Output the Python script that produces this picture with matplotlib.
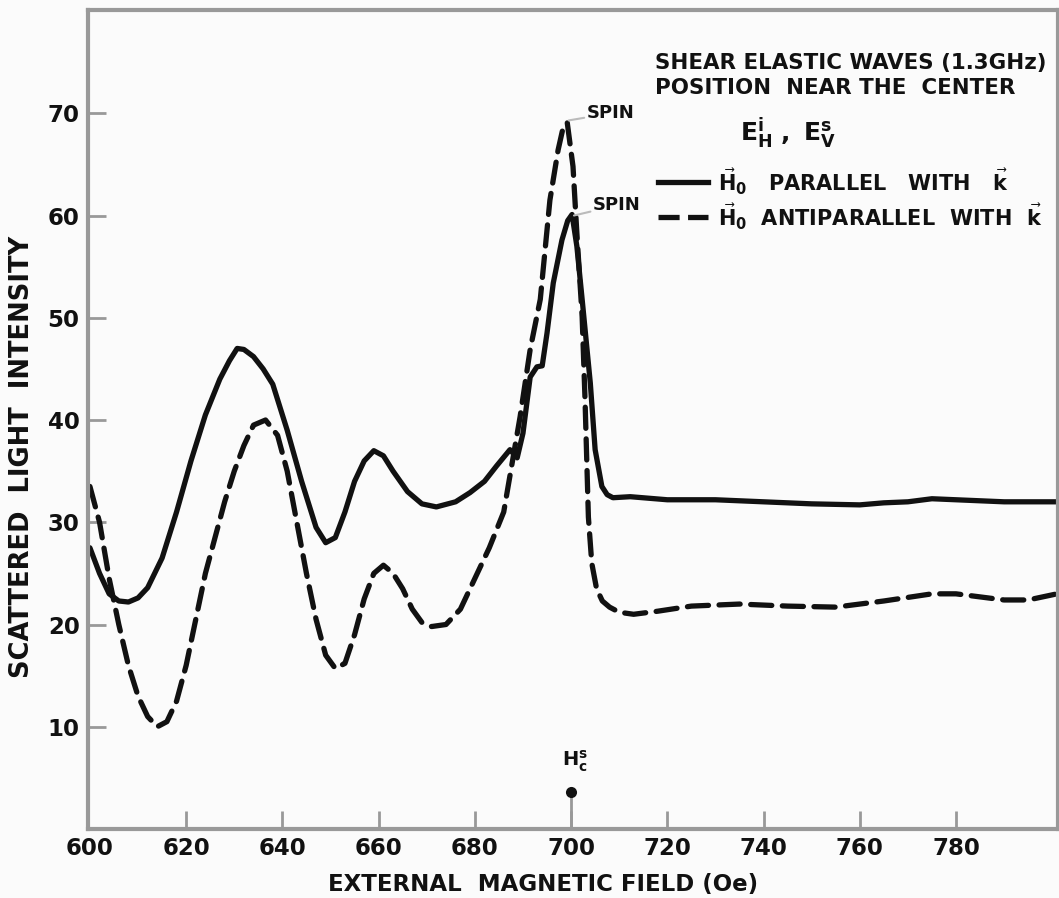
import numpy as np
import matplotlib
matplotlib.use('Agg')
import matplotlib.pyplot as plt

# solid curve: H0 parallel with k
par_x = [600, 602, 604, 606, 608, 610, 612, 615, 618, 621, 624, 627, 629,
         630.6, 632, 634, 636, 638, 641, 644, 647, 649, 651, 653, 655, 657,
         659, 661, 663, 666, 669, 672, 676, 679, 682, 684.5, 687.3, 688.8,
         690, 691.5, 692.9, 694, 695, 696.3, 698.1, 699.3, 700.2, 701.2,
         702.3, 704, 705, 706.4, 707.5, 708.7, 712.3, 720, 730, 740, 750,
         760, 765, 770, 775, 780, 790, 801]
par_y = [27.5, 25, 23, 22.3, 22.2, 22.6, 23.6, 26.5, 31, 36, 40.5, 44, 45.8,
         47, 46.9, 46.2, 45, 43.5, 39, 34, 29.5, 28, 28.5, 31, 34, 36,
         37, 36.5, 35, 33, 31.8, 31.5, 32, 32.9, 34, 35.5, 37.1, 36.3,
         38.7, 44.2, 45.2, 45.3, 48.5, 53.4, 57.6, 59.5, 60.1, 57,
         51.8, 43.6, 37.1, 33.5, 32.7, 32.4, 32.5, 32.2, 32.2, 32, 31.8,
         31.7, 31.9, 32, 32.3, 32.2, 32, 32]

# dashed curve: H0 antiparallel with k
anti_x = [600, 602, 604, 606, 608, 610, 612, 614, 616, 618, 620, 622, 624, 626,
          628, 630, 632, 634, 636.5, 639, 641, 643, 645, 647, 649, 651, 653,
          655, 657, 659, 661, 663, 665, 667, 669, 671, 674, 677, 680, 683, 686,
          689.4, 691.5, 693.6, 695.6, 697.3, 698.3, 699.2, 700.4, 701.2, 702.3,
          702.9, 703.3, 703.6, 704.3, 705.3, 706.5, 708, 710, 713, 718, 725,
          735, 745, 755, 765, 775, 780, 785, 790, 795, 801]
anti_y = [33.5, 30, 24.5, 20, 16, 13, 11, 10, 10.5, 12.5, 16, 20.5, 25, 28.5,
          32, 35, 37.5, 39.5, 40, 38.5, 35, 30, 25, 20.5, 17, 15.7, 16.2,
          19, 22.5, 25, 25.8, 25, 23.5, 21.5, 20.2, 19.8, 20, 21.5, 24.5, 27.5, 31,
          40.3, 46.9, 51.8, 61.5, 66.4, 68.5, 69.1, 64.8, 58.3, 50.1,
          42, 35.4, 30.5, 26, 23.5, 22.3, 21.7, 21.2, 21, 21.3, 21.8,
          22, 21.8, 21.7, 22.3, 23, 23, 22.7, 22.4, 22.4, 23]

xticks = [600, 620, 640, 660, 680, 700, 720, 740, 760, 780]
yticks = [10, 20, 30, 40, 50, 60, 70]

ink = '#111111'
grey = '#999999'


def main():
    fig = plt.figure(figsize=(10.59, 8.98), dpi=100, facecolor='#fbfbfb')
    ax = fig.add_axes([88 / 1059, 1 - 829 / 898, 970 / 1059, 819 / 898])
    ax.set_facecolor('#fbfbfb')

    ax.plot(par_x, par_y, color=ink, lw=3.8, solid_capstyle='round',
            solid_joinstyle='round')
    ax.plot(anti_x, anti_y, color=ink, lw=3.8, dashes=(4, 2),
            dash_capstyle='round', dash_joinstyle='round')

    ax.set_xlim(599.6, 801.2)
    ax.set_ylim(0, 80.1)
    ax.set_xticks(xticks)
    ax.set_yticks(yticks)
    ax.tick_params(direction='in', length=13, width=2, color=grey,
                   labelsize=16.5, pad=6)
    ax.xaxis.get_major_ticks()[0].tick1line.set_visible(False)
    for lab in ax.get_xticklabels() + ax.get_yticklabels():
        lab.set_fontweight('bold')
        lab.set_color(ink)
    for sp in ax.spines.values():
        sp.set_color(grey)
        sp.set_linewidth(3)

    fig.text(543 / 1059, 1 - 884 / 898, 'EXTERNAL  MAGNETIC FIELD (Oe)',
             ha='center', va='center', fontsize=16.5, fontweight='bold', color=ink)
    fig.text(22 / 1059, 1 - 457 / 898, 'SCATTERED  LIGHT  INTENSITY',
             ha='center', va='center', rotation=90, fontsize=18.5,
             fontweight='bold', color=ink)

    # SPIN annotations
    ax.annotate('SPIN', xy=(699.5, 69.3), xytext=(703.3, 70.0),
                fontsize=13, fontweight='bold', color=ink, va='center',
                arrowprops=dict(arrowstyle='-', color='#bbbbbb', lw=1.5,
                                shrinkA=0, shrinkB=0))
    ax.annotate('SPIN', xy=(700.6, 60), xytext=(704.6, 61.0),
                fontsize=13, fontweight='bold', color=ink, va='center',
                arrowprops=dict(arrowstyle='-', color='#bbbbbb', lw=1.5,
                                shrinkA=0, shrinkB=0))

    # critical field marker
    ax.plot([700, 700], [0, 3], color=grey, lw=2)
    ax.plot([700], [3.6], marker='o', ms=8, color=ink, markeredgewidth=0)
    ax.text(700.8, 6.6, r'$\mathbf{H_c^s}$', ha='center', va='center',
            fontsize=14, color=ink)

    # legend block
    tk = dict(fontsize=15, fontweight='bold', color=ink, va='center')
    fig.text(655 / 1059, 1 - 63 / 898, 'SHEAR ELASTIC WAVES (1.3GHz)',
             fontsize=15.4, fontweight='bold', color=ink, va='center')
    fig.text(655 / 1059, 1 - 88 / 898, 'POSITION  NEAR THE  CENTER',
             fontsize=15.4, fontweight='bold', color=ink, va='center')
    fig.text(740 / 1059, 1 - 133 / 898, r'$\mathbf{E_H^i\ ,\ E_{V}^s}$',
             fontsize=18, color=ink, va='center')
    y1 = 1 - 182 / 898
    y2 = 1 - 217 / 898
    fig.add_artist(plt.Line2D([658 / 1059, 708 / 1059], [y1, y1], color=ink,
                              lw=3.8, transform=fig.transFigure))
    fig.add_artist(plt.Line2D([658 / 1059, 708 / 1059], [y2, y2], color=ink,
                              lw=3.8, dashes=(4, 1.6), transform=fig.transFigure))
    fig.text(718 / 1059, y1, r'$\vec{\mathbf{H}}_\mathbf{0}$   PARALLEL   WITH   $\vec{\mathbf{k}}$', **tk)
    fig.text(718 / 1059, y2, r'$\vec{\mathbf{H}}_\mathbf{0}$  ANTIPARALLEL  WITH  $\vec{\mathbf{k}}$', **tk)

    plt.savefig('out.png', dpi=100, facecolor=fig.get_facecolor())


if __name__ == '__main__':
    main()
